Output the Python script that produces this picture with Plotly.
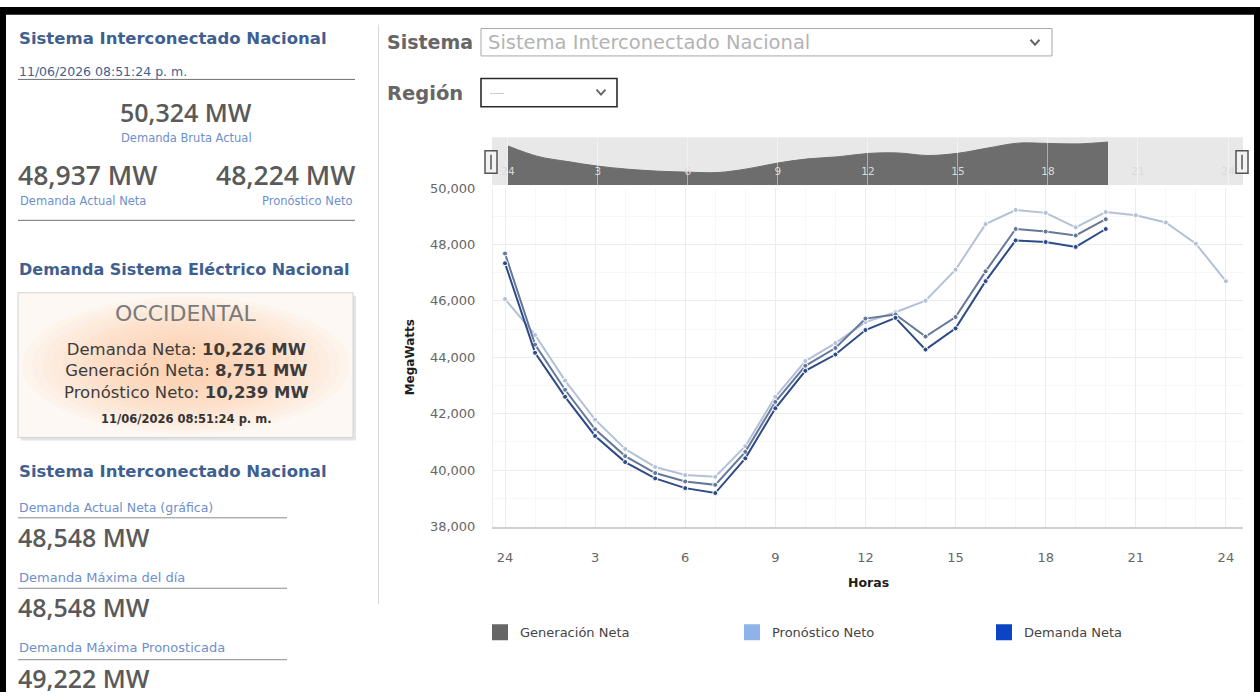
import plotly.graph_objects as go

# ---------------- data ----------------
hours = list(range(25))
x_tick_vals = [0, 3, 6, 9, 12, 15, 18, 21, 24]
x_tick_text = ["24", "3", "6", "9", "12", "15", "18", "21", "24"]

generacion_neta = [47680, 44450, 42850, 41450, 40500, 39900, 39600, 39480, 40650, 42420,
                   43700, 44330, 45373, 45520, 44737, 45428, 47047, 48548, 48457, 48318, 48895]
pronostico_neto = [46066, 44794, 43175, 41790, 40750, 40114, 39827, 39768, 40850, 42600,
                   43869, 44506, 45250, 45600, 46007, 47106, 48722, 49222, 49120, 48607,
                   49150, 49035, 48780, 48028, 46700]
demanda_neta = [47334, 44160, 42600, 41213, 40288, 39710, 39364, 39190, 40420, 42194,
                43522, 44100, 44967, 45400, 44274, 45026, 46700, 48145, 48087, 47913, 48548]

series_names = ["Generación Neta", "Pronóstico Neto", "Demanda Neta"]
line_colors = ["#66789a", "#b3c1d8", "#2c4a86"]
legend_colors = ["#666666", "#8fb3e8", "#0b45c5"]

# side panel texts
panel_title = "Sistema Interconectado Nacional"
panel_date = "11/06/2026 08:51:24 p. m."
bruta_value, bruta_label = "50,324 MW", "Demanda Bruta Actual"
neta_value, neta_label = "48,937 MW", "Demanda Actual Neta"
pron_value, pron_label = "48,224 MW", "Pronóstico Neto"
region_title = "Demanda Sistema Eléctrico Nacional"
region_name = "OCCIDENTAL"
region_labels = ["Demanda Neta:", "Generación Neta:", "Pronóstico Neto:"]
region_values = ["10,226 MW", "8,751 MW", "10,239 MW"]
bottom_labels = ["Demanda Actual Neta (gráfica)", "Demanda Máxima del día", "Demanda Máxima Pronosticada"]
bottom_values = ["48,548 MW", "48,548 MW", "49,222 MW"]

W, H = 1260, 700


def px(x):
    return x / W


def py(y):
    return 1 - y / H


fig = go.Figure()

# navigator (area of first series)
fig.add_trace(go.Scatter(
    x=hours[:len(generacion_neta)], y=generacion_neta, xaxis="x2", yaxis="y2",
    mode="lines", line=dict(color="#6d6d6d", width=1, shape="spline"),
    fill="tozeroy", fillcolor="#6d6d6d", hoverinfo="skip", showlegend=False))
# carrier for the navigator grid overlay axis
fig.add_trace(go.Scatter(x=[None], y=[None], xaxis="x3", yaxis="y2", mode="markers",
                         hoverinfo="skip", showlegend=False))

# main series (draw order: forecast, generation, demand)
order = [1, 0, 2]
all_data = [generacion_neta, pronostico_neto, demanda_neta]
for i in order:
    d = all_data[i]
    fig.add_trace(go.Scatter(
        x=hours[:len(d)], y=d, mode="lines+markers", name=series_names[i],
        line=dict(color=line_colors[i], width=2),
        marker=dict(size=5, color=line_colors[i], line=dict(color="white", width=1)),
        showlegend=False))

# legend entries (square symbols)
for i in range(3):
    fig.add_trace(go.Scatter(
        x=[None], y=[None], mode="markers", name=series_names[i],
        marker=dict(symbol="square", size=16, color=legend_colors[i]),
        showlegend=True))

shapes = []
ann = []


def rect(x0, y0, x1, y1, fill=None, line=None, lw=1, layer="below"):
    shapes.append(dict(type="rect", xref="paper", yref="paper",
                       x0=px(x0), x1=px(x1), y0=py(y1), y1=py(y0),
                       fillcolor=fill if fill else "rgba(0,0,0,0)",
                       line=dict(color=line if line else "rgba(0,0,0,0)", width=lw if line else 0),
                       layer=layer))


def hline(x0, x1, y, color, w=1):
    shapes.append(dict(type="line", xref="paper", yref="paper",
                       x0=px(x0), x1=px(x1), y0=py(y), y1=py(y),
                       line=dict(color=color, width=w)))


def chevron(cx, cy, color="#666"):
    p = "M {},{} L {},{} L {},{}".format(px(cx - 4.5), py(cy - 2.5), px(cx), py(cy + 2.5),
                                          px(cx + 4.5), py(cy - 2.5))
    shapes.append(dict(type="path", xref="paper", yref="paper", path=p,
                       line=dict(color=color, width=2)))


def text(x, y, s, size, color, family="DejaVu Sans", xanchor="left", angle=0, weight=None):
    f = dict(size=size, color=color, family=family)
    if weight:
        f["weight"] = weight
    ann.append(dict(x=px(x), y=py(y), xref="paper", yref="paper", text=s, showarrow=False,
                    xanchor=xanchor, yanchor="middle", font=f, textangle=angle))


# frame
rect(0, 0, 1260, 8, fill="#000000", layer="above")
rect(0, 0, 6, 700, fill="#000000", layer="above")
rect(1254, 0, 1260, 700, fill="#000000", layer="above")
shapes.append(dict(type="line", xref="paper", yref="paper", x0=px(378.5), x1=px(378.5),
                   y0=py(610), y1=py(18), line=dict(color="#d9d9d9", width=1)))

# ---- left panel ----
blue_t = "#3f5f91"
cap_c = "#6d8fcb"
num_c = "#5a5a5a"
text(17, 32, "<b>" + panel_title + "</b>", 16.5, blue_t)
text(17, 66, panel_date, 12.5, blue_t)
hline(18, 355, 74, "#707070")
text(186, 107, bruta_value, 25, num_c, "Open Sans", "center", weight=600)
text(186, 134, bruta_label, 11.5, cap_c, xanchor="center")
text(16, 172, neta_value, 26.5, num_c, "Open Sans", weight=600)
text(18, 198, neta_label, 11.5, cap_c)
text(357, 172, pron_value, 26.5, num_c, "Open Sans", "right", weight=600)
text(355, 198, pron_label, 11.5, cap_c, xanchor="right")
hline(18, 355, 218, "#707070")
text(17, 268, "<b>" + region_title + "</b>", 16, blue_t)

# region box with soft gradient
rect(21, 295, 356, 443, fill="#e4e4e4")
rect(18, 292, 353, 440, fill="#fdf8f3", line="#d2d2d2")
for k in range(14):
    rx = 164 - k * 10
    ry = 70 - k * 4
    shapes.append(dict(type="circle", xref="paper", yref="paper",
                       x0=px(186 - rx), x1=px(186 + rx), y0=py(366 + ry), y1=py(366 - ry),
                       fillcolor="rgba(249,205,160,0.07)", line=dict(width=0), layer="below"))
text(186, 313, region_name, 22, "#7a7a7a", xanchor="center")
region_lines = "<br>".join(region_labels[j] + " <b>" + region_values[j] + "</b>" for j in range(3))
ann.append(dict(x=px(186), y=py(372), xref="paper", yref="paper", text=region_lines,
                showarrow=False, xanchor="center", yanchor="middle", align="center",
                font=dict(size=16.5, color="#3c3c3c", family="DejaVu Sans")))
text(186, 421, "<b>" + panel_date + "</b>", 11.5, "#333333", xanchor="center")

text(17, 475, "<b>" + panel_title + "</b>", 16.5, blue_t)
label_y = [511, 583, 655]
value_y = [542, 613, 686]
line_y = [522, 594, 667]
label_sizes = [12.5, 13, 13]
for j in range(3):
    text(17, label_y[j], bottom_labels[j], label_sizes[j], cap_c)
    hline(18, 287, line_y[j], "#8a8a8a")
    text(16, value_y[j], bottom_values[j], 25, num_c, "Open Sans", weight=600)

# ---- selectors ----
text(385, 36, "<b>Sistema</b>", 19, "#666666")
rect(481, 22, 1052, 50, fill="#ffffff", line="#a8a8a8")
text(486, 36, panel_title, 19.5, "#b3b3b3")
chevron(1035, 36)
text(385, 88, "<b>Región</b>", 19.5, "#666666")
rect(481, 73, 617, 102, fill="#ffffff", line="#2a2a2a", lw=1.6)
text(488, 88, "-----", 8, "#aaaaaa")
chevron(601, 87)

# ---- navigator decorations ----
shapes.append(dict(type="rect", xref="x2 domain", yref="y2 domain", x0=0, x1=1, y0=0, y1=1,
                   fillcolor="#e8e8e8", line=dict(width=0), layer="below"))
for hx in (491, 1242):
    rect(hx - 6, 147, hx + 6, 170, fill="#f2f2f2", line="#555555", lw=1.5, layer="above")
    shapes.append(dict(type="line", xref="paper", yref="paper", x0=px(hx), x1=px(hx),
                       y0=py(166), y1=py(151), line=dict(color="#555555", width=1.5)))

# axis titles
text(410, 358, "<b>MegaWatts</b>", 12, "#1e1e1e", xanchor="center", angle=-90)
text(868, 588, "<b>Horas</b>", 12.5, "#1e1e1e", xanchor="center")

tick_font = dict(family="DejaVu Sans", size=13, color="#666666")
nav_dom = [px(492), px(1243)]
nav_rng = [-0.53, 24.5]

fig.update_layout(
    width=W, height=H, autosize=False,
    margin=dict(l=0, r=0, t=0, b=0),
    paper_bgcolor="white", plot_bgcolor="white",
    shapes=shapes, annotations=ann,
    xaxis=dict(domain=[px(493), px(1243)], range=[-0.4, 24.57], anchor="y",
               tickmode="array", tickvals=x_tick_vals, ticktext=x_tick_text,
               showgrid=True, gridcolor="#ececec",
               minor=dict(dtick=1, showgrid=True, gridcolor="#f7f7f7"),
               showline=True, linecolor="#cfcfcf", linewidth=1.5, zeroline=False,
               ticks="", tickfont=tick_font, ticklabelstandoff=18),
    yaxis=dict(domain=[py(531), py(185)], range=[38000, 50000], anchor="x",
               dtick=2000, tickformat=",", showgrid=True, gridcolor="#ececec",
               minor=dict(dtick=1000, showgrid=True, gridcolor="#f7f7f7"),
               showline=True, linecolor="#ececec", zeroline=False,
               ticks="", tickfont=tick_font, ticklabelstandoff=14),
    xaxis2=dict(domain=nav_dom, range=nav_rng, anchor="y2",
                tickmode="array", tickvals=x_tick_vals, ticktext=x_tick_text,
                showgrid=False, zeroline=False, showline=False, ticks="",
                ticklabelposition="inside", ticklabelstandoff=5, layer="above traces",
                tickfont=dict(family="DejaVu Sans", size=10.5, color="#dadada")),
    xaxis3=dict(domain=nav_dom, range=nav_rng, anchor="y2", overlaying="x2",
                tickmode="array", tickvals=x_tick_vals, showticklabels=False,
                showgrid=False, zeroline=False, showline=False,
                ticks="inside", ticklen=49, tickwidth=1, tickcolor="rgba(255,255,255,0.45)",
                layer="above traces"),
    yaxis2=dict(domain=[py(182), py(133)], range=[35600, 50400], anchor="x2", visible=False),
    legend=dict(orientation="h", x=px(480), y=py(639), xanchor="left", yanchor="middle",
                entrywidth=207, entrywidthmode="pixels",
                font=dict(family="DejaVu Sans", size=13, color="#444444"),
                bgcolor="rgba(0,0,0,0)"),
    hovermode=False,
)

fig.write_html("out.html", config={"displayModeBar": False},
               post_script="document.body.style.margin='0';document.body.style.overflow='hidden';")
